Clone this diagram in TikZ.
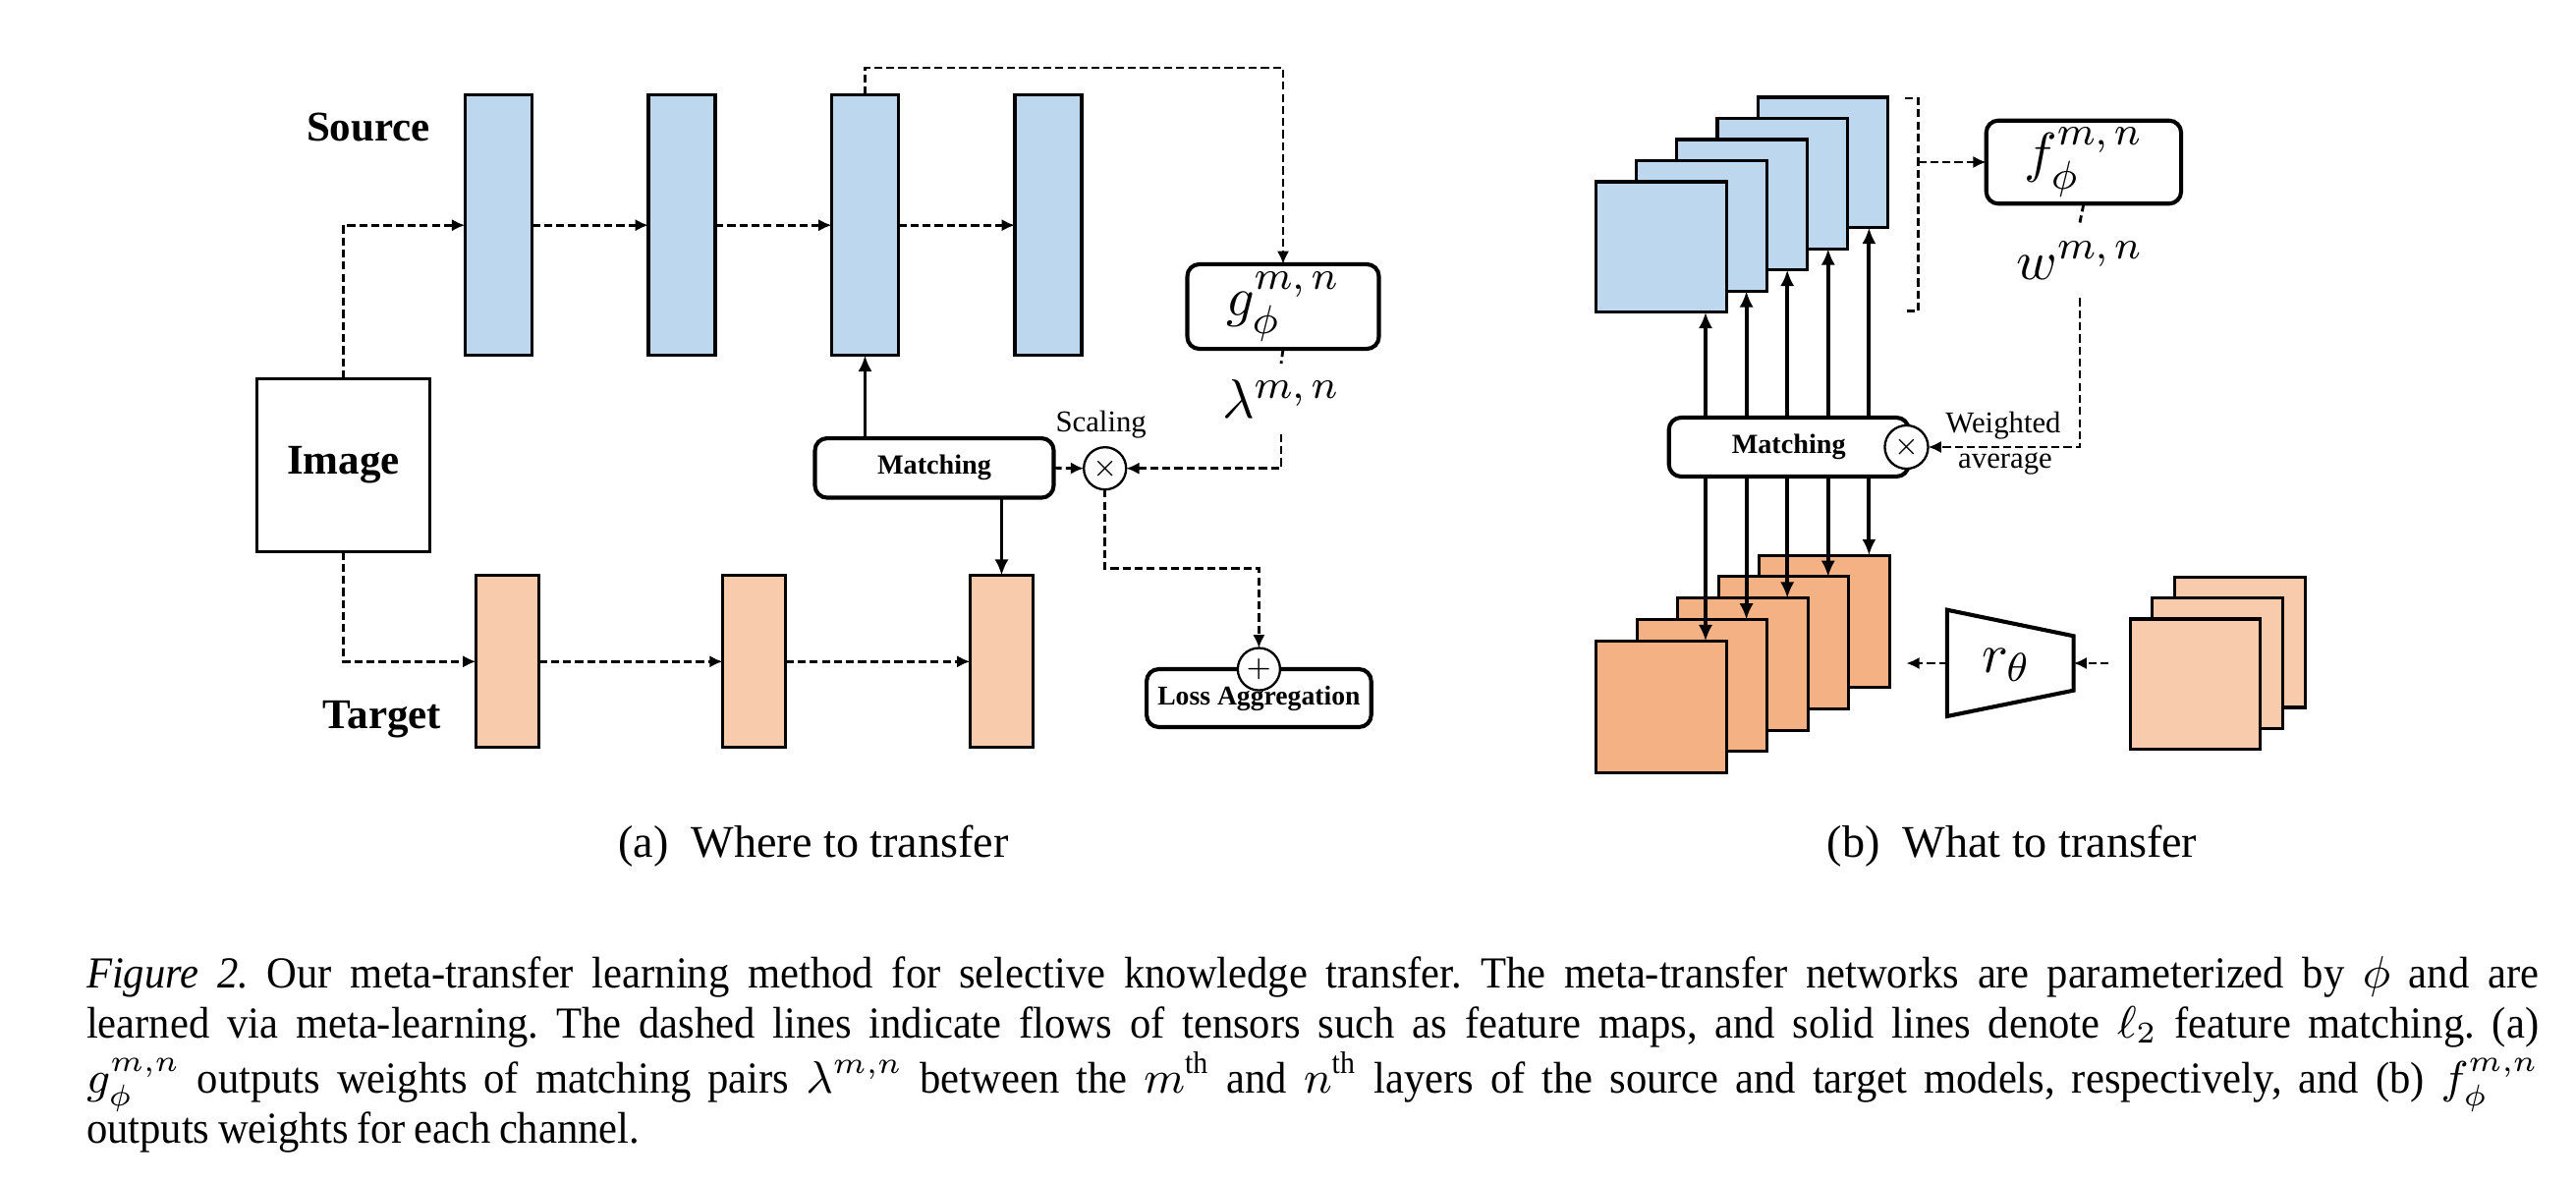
\documentclass[tikz,border=0pt]{standalone}
\usepackage{amsmath,amssymb}
\usepackage{fontspec}
\setmainfont{Liberation Serif}
\newfontfamily\capfont[FakeStretch=0.945,WordSpace={0.8,1.2,1.5}]{Liberation Serif}
\usetikzlibrary{arrows.meta}

\definecolor{srcblue}{HTML}{BDD7EE}
\definecolor{tgtlight}{HTML}{F8CBAD}
\definecolor{tgtdark}{HTML}{F4B183}

\begin{document}
\begin{tikzpicture}[x=0.1951pt,y=-0.1951pt,
  bar/.style={draw,line width=0.6pt,inner sep=0pt,outer sep=0pt},
  srcbar/.style={bar,fill=srcblue,minimum width=13.27pt,minimum height=51.7pt},
  tgtbar/.style={bar,fill=tgtlight,minimum width=12.49pt,minimum height=34.2pt},
  featsq/.style={bar,minimum width=25.88pt,minimum height=25.9pt},
  roundbox/.style={draw,line width=0.8pt,rounded corners=2.4pt,fill=white,inner sep=0pt,outer sep=0pt},
  matchbox/.style={roundbox,minimum width=47.4pt,minimum height=11.8pt,font=\bfseries\fontsize{5.5}{6}\selectfont},
  opcircle/.style={draw,circle,line width=0.45pt,fill=white,minimum size=8.4pt,inner sep=0pt,outer sep=0pt,font=\fontsize{5.5}{6}\selectfont},
  netlabel/.style={font=\bfseries\fontsize{8.4}{9}\selectfont},
  smalltext/.style={font=\fontsize{6}{6.5}\selectfont,inner sep=0pt},
  mathlabel/.style={font=\fontsize{11}{12}\selectfont,inner sep=3pt},
  dashline/.style={line width=0.55pt,dash pattern=on 1.6pt off 0.8pt},
  flow/.style={dashline,-{Latex[length=2.6pt,width=2.4pt]}},
  match/.style={line width=0.75pt,-{Latex[length=3.2pt,width=2.8pt]}}]

\useasboundingbox (0,0) rectangle (2622,1204);

%(a) source and target networks
\foreach \i/\xx in {1/507.3,2/694,3/880.5,4/1067}
  \node[srcbar] (s\i) at (\xx,229.2) {};
\foreach \i/\xx in {1/516.5,2/767.6,3/1019.5}
  \node[tgtbar] (t\i) at (\xx,673.3) {};

\node[bar,minimum width=34.4pt,minimum height=34.4pt,font=\bfseries\fontsize{8.4}{9}\selectfont] (img) at (349.5,473.3) {Image};
\node[netlabel] (srclabel) at (375,130) {Source};
\node[netlabel] (tgtlabel) at (389,731.7) {Target};

\node[roundbox,minimum width=38.05pt,minimum height=16.8pt,font=\fontsize{11}{12}\selectfont] (g) at (1306,312) {$g_\phi^{m,\,n}$};
\node[mathlabel] (lam) at (1304,406) {$\lambda^{m,\,n}$};
\node[matchbox] (ma) at (951,476.3) {Matching};
\node[opcircle] (sc) at (1124.7,476.7) {$\times$};
\node[smalltext] (scl) at (1120.7,431.7) {Scaling};
\node[roundbox,minimum width=44.6pt,minimum height=11.5pt,font=\bfseries\fontsize{5.4}{6}\selectfont] (loss) at (1281.4,710.5) {Loss Aggregation};
\node[opcircle] (plus) at (loss.north) {$+$};

% dashed flows
\draw[flow] (img.north) |- (s1.west);
\draw[flow] (img.south) |- (t1.west);
\foreach \a/\b in {s1/s2,s2/s3,s3/s4,t1/t2,t2/t3}
  \draw[flow] (\a) -- (\b);
\coordinate (gtop) at (1306,69);
\draw[flow] (s3.north) |- (gtop) -- (g.north);
\draw[dashline] (g.south) -- (lam.north);
\draw[flow] (lam.south) |- (sc.east);
\draw[flow] (ma.east) -- (sc.west);
\draw[flow] (sc.south) -- ++(0,80.5) -| (plus.north);

% feature matching
\draw[match] (ma.north -| s3) -- (s3.south);
\draw[match] (ma.south -| t3) -- (t3.north);

%(b) channels of the matched pair
\foreach \i in {4,...,0}
  \node[featsq,fill=srcblue] (b\i) at ({1691+41.1*\i},{251.4-21.5*\i}) {};
\foreach \i in {4,...,0}
  \node[featsq,fill=tgtdark,minimum height=26.2pt] (o\i) at ({1691+41.5*\i},{719.5-21.8*\i}) {};
\foreach \i in {2,...,0}
  \node[featsq,fill=tgtlight] (c\i) at ({2234.4+22.7*\i},{696.4-21.4*\i}) {};

\node[roundbox,minimum width=38.7pt,minimum height=16.5pt,font=\fontsize{11}{12}\selectfont] (f) at (2120.9,165) {$f_\phi^{m,\,n}$};
\node[mathlabel,inner sep=3.6pt] (w) at (2117,265) {$w^{m,\,n}$};
\node[matchbox,minimum width=47.6pt,minimum height=11.7pt] (mb) at (1820.7,455) {Matching};
\node[opcircle,minimum size=8.6pt] (wt) at (1940.5,455) {$\times$};
\node[smalltext] (wtl1) at (2039,433.3) {Weighted};
\node[smalltext] (wtl2) at (2041,471.7) {average};

% bracket over the channels
\coordinate (brtop) at (1952.4,100);
\coordinate (brbot) at (1952.4,316.7);
\draw[dashline] (1939,100) -- (brtop) -- (brbot) -- (1939,316.7);
\draw[flow] (f.west -| brtop) -- (f.west);
\draw[dashline] (f.south) -- (w.north);
\draw[flow] (w.south) |- (wt.east);

\foreach \i in {0,...,4} {
  \coordinate (a\i) at ({1736+41.6*\i},0);
  \draw[match] (mb.north -| a\i) -- (b\i.south -| a\i);
  \draw[match] (mb.south -| a\i) -- (o\i.north -| a\i);
}

% r_theta
\draw[line width=0.8pt,fill=white] (1981.8,620.7) -- (2110.6,647.3) -- (2110.6,702.7) -- (1981.8,729) -- cycle;
\coordinate (rl) at (1981.8,675);
\coordinate (rr) at (2110.6,675);
\coordinate (rout) at (1940.3,675);
\coordinate (rin) at (2146,675);
\node[font=\fontsize{11}{12}\selectfont] (r) at (2042,676.7) {$r_\theta$};
\draw[flow] (rl) -- (rout);
\draw[flow] (rin) -- (rr);

% captions
\node[anchor=base,font=\fontsize{9}{10}\selectfont] (capa) at (828,872) {(a)~~Where to transfer};
\node[anchor=base,font=\fontsize{9}{10}\selectfont] (capb) at (2048,872) {(b)~~What to transfer};
\node[anchor=base west,inner sep=0pt,text width=487pt,align=justify,font=\capfont\fontsize{8.8}{9.95}\selectfont] (cap) at (87,1005) {\noindent\frenchspacing\tolerance=2000\textit{Figure 2.} Our meta-transfer learning method for selective knowledge transfer. The meta-transfer networks are parameterized by $\phi$ and are\linebreak learned via meta-learning. The dashed lines indicate flows of tensors such as feature maps, and solid lines denote $\ell_2$ feature matching. (a)\linebreak $g_{\phi}^{m,n}$ outputs weights of matching pairs $\lambda^{m,n}$ between the $m^{\text{th}}$ and $n^{\text{th}}$ layers of the source and target models, respectively, and (b) $f_{\phi}^{m,n}$\linebreak outputs weights for each channel.};

\end{tikzpicture}
\end{document}
